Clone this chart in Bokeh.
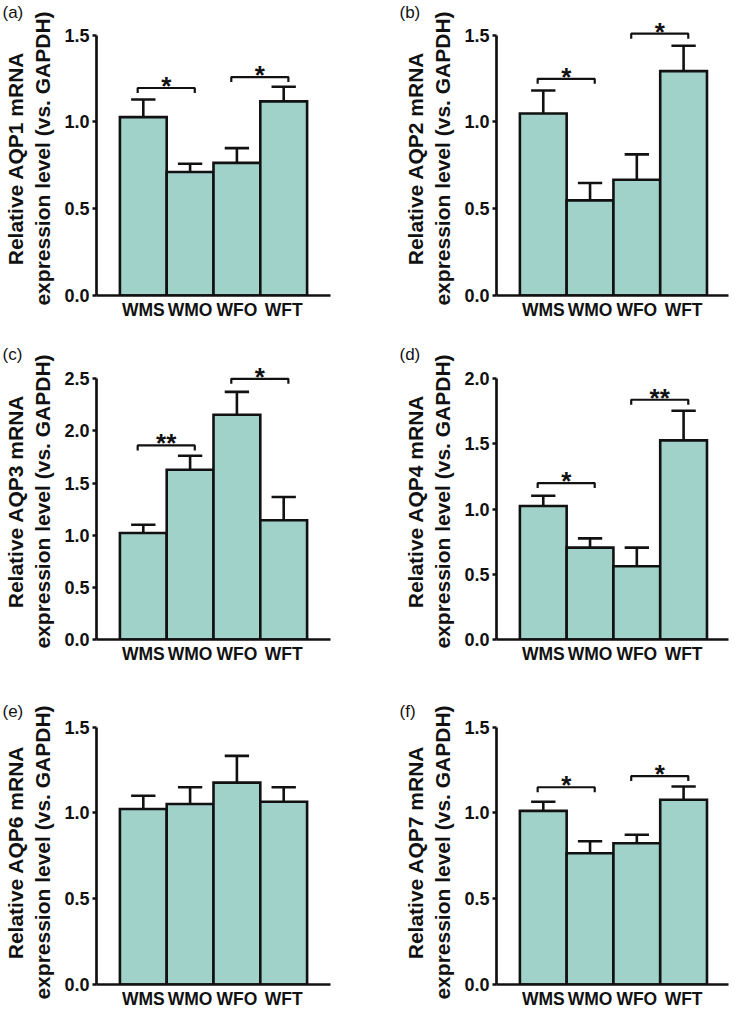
from bokeh.plotting import figure
from bokeh.layouts import gridplot
from bokeh.models import Range1d, FixedTicker, NumeralTickFormatter, ColumnDataSource, Title
from bokeh.core.properties import value
from bokeh.embed import file_html
from bokeh.resources import INLINE

# ---------------- data ----------------
categories = ["WMS", "WMO", "WFO", "WFT"]
panel_tags = ["(a)", "(b)", "(c)", "(d)", "(e)", "(f)"]
genes = ["AQP1", "AQP2", "AQP3", "AQP4", "AQP6", "AQP7"]

aqp1_mean = [1.027, 0.711, 0.764, 1.118]
aqp1_sem = [0.102, 0.048, 0.085, 0.084]
aqp2_mean = [1.048, 0.548, 0.667, 1.292]
aqp2_sem = [0.133, 0.100, 0.146, 0.146]
aqp3_mean = [1.022, 1.628, 2.155, 1.143]
aqp3_sem = [0.078, 0.134, 0.220, 0.224]
aqp4_mean = [1.024, 0.705, 0.562, 1.527]
aqp4_sem = [0.079, 0.071, 0.143, 0.228]
aqp6_mean = [1.023, 1.052, 1.177, 1.065]
aqp6_sem = [0.077, 0.098, 0.156, 0.085]
aqp7_mean = [1.012, 0.765, 0.823, 1.077]
aqp7_sem = [0.053, 0.070, 0.050, 0.077]

ticks_15 = [0.0, 0.5, 1.0, 1.5]
ticks_20 = [0.0, 0.5, 1.0, 1.5, 2.0]
ticks_25 = [0.0, 0.5, 1.0, 1.5, 2.0, 2.5]

# significance brackets: (group i, group j, bracket height, marker)
aqp1_sig = [(0, 1, 1.195, "*"), (2, 3, 1.258, "*")]
aqp2_sig = [(0, 1, 1.248, "*"), (2, 3, 1.508, "*")]
aqp3_sig = [(0, 1, 1.861, "**"), (2, 3, 2.500, "*")]
aqp4_sig = [(0, 1, 1.200, "*"), (2, 3, 1.839, "**")]
aqp6_sig = []
aqp7_sig = [(0, 1, 1.150, "*"), (2, 3, 1.215, "*")]

# ---------------- style / layout ----------------
FILL = "#a0d2c9"
INK = "#111111"
FONT = "Liberation Sans"

LEFT = dict(x0=0, w=367, bl=96, br=37, xend=5.0, tx=2)
RIGHT = dict(x0=367, w=368, bl=129, br=7, xend=4.96, tx=399)
ROW1 = dict(h=330, bt=5, bb=35)
ROW2 = dict(h=340, bt=33, bb=31)
ROW3 = dict(h=341, bt=50, bb=24)


def make_panel(tag, gene, means, sems, ticks, sig, col, rw, yend):
    p = figure(width=col["w"], height=rw["h"],
               x_range=Range1d(0, col["xend"]), y_range=Range1d(0, yend),
               output_backend="svg", toolbar_location=None,
               min_border_left=col["bl"], min_border_right=col["br"],
               min_border_top=rw["bt"], min_border_bottom=rw["bb"])
    p.outline_line_color = None
    p.grid.visible = False

    frame_h = rw["h"] - max(rw["bt"], 22) - rw["bb"]

    xs = [i + 1 for i in range(len(categories))]
    src = ColumnDataSource(dict(
        x=xs, top=means,
        hi=[m + s for m, s in zip(means, sems)],
        cl=[x - 0.26 for x in xs], cr=[x + 0.26 for x in xs]))
    p.vbar(x="x", top="top", bottom=0, width=1.0, source=src,
           fill_color=FILL, line_color=INK, line_width=2.6, line_join="miter")
    p.segment(x0="x", y0="top", x1="x", y1="hi", source=src,
              line_color=INK, line_width=2.6)
    p.segment(x0="cl", y0="hi", x1="cr", y1="hi", source=src,
              line_color=INK, line_width=2.6)

    d = 5.0 * yend / frame_h
    if sig:
        bx, by, sx, sy, st = [], [], [], [], []
        for i, j, yb, mk in sig:
            l = xs[i] - 0.12
            r = xs[j] + 0.10
            bx.append([l, l, r, r])
            by.append([yb - d, yb, yb, yb - d])
            sx.append((l + r) / 2)
            sy.append(yb)
            st.append(mk)
        p.multi_line(xs=bx, ys=by, line_color=INK, line_width=2.2)
        p.text(x=sx, y=sy, text=st, text_font=value(FONT), text_font_style="bold",
               text_font_size="26px", text_align="center", text_baseline="alphabetic",
               y_offset=-2, text_color=INK)

    yax = p.yaxis[0]
    yax.ticker = FixedTicker(ticks=ticks)
    yax.bounds = (ticks[0], ticks[-1])
    yax.formatter = NumeralTickFormatter(format="0.0")
    yax.axis_label = f"Relative {gene} mRNA\nexpression level (vs. GAPDH)"
    yax.axis_label_text_font = FONT
    yax.axis_label_text_font_style = "bold"
    yax.axis_label_text_font_size = "21px"
    yax.axis_label_text_color = INK
    yax.axis_label_standoff = 7
    yax.major_label_text_font = FONT
    yax.major_label_text_font_style = "bold"
    yax.major_label_text_font_size = "18px"
    yax.major_label_text_color = INK
    yax.major_label_standoff = 3
    yax.axis_line_width = 2.7
    yax.axis_line_color = INK
    yax.major_tick_line_width = 2.5
    yax.major_tick_line_color = INK
    yax.major_tick_out = 4
    yax.major_tick_in = 0
    yax.minor_tick_out = 0
    yax.minor_tick_in = 0

    xax = p.xaxis[0]
    xax.ticker = FixedTicker(ticks=xs)
    xax.major_label_overrides = {x: c for x, c in zip(xs, categories)}
    xax.major_label_text_font = FONT
    xax.major_label_text_font_style = "bold"
    xax.major_label_text_font_size = "17.5px"
    xax.major_label_text_color = INK
    xax.major_label_standoff = 4
    xax.axis_line_width = 2.7
    xax.axis_line_color = INK
    xax.major_tick_out = 0
    xax.major_tick_in = 0
    xax.minor_tick_out = 0
    xax.minor_tick_in = 0

    t = Title(text=tag, align="left", offset=col["tx"] - col["x0"] - col["bl"],
              text_font=FONT, text_font_size="17px", text_font_style="normal",
              text_color=INK, standoff=0)
    p.add_layout(t, "above")
    return p


pa = make_panel(panel_tags[0], genes[0], aqp1_mean, aqp1_sem, ticks_15, aqp1_sig, LEFT, ROW1, 1.578)
pb = make_panel(panel_tags[1], genes[1], aqp2_mean, aqp2_sem, ticks_15, aqp2_sig, RIGHT, ROW1, 1.578)
pc = make_panel(panel_tags[2], genes[2], aqp3_mean, aqp3_sem, ticks_25, aqp3_sig, LEFT, ROW2, 2.647)
pd = make_panel(panel_tags[3], genes[3], aqp4_mean, aqp4_sem, ticks_20, aqp4_sig, RIGHT, ROW2, 2.117)
pe = make_panel(panel_tags[4], genes[4], aqp6_mean, aqp6_sem, ticks_15, aqp6_sig, LEFT, ROW3, 1.539)
pf = make_panel(panel_tags[5], genes[5], aqp7_mean, aqp7_sem, ticks_15, aqp7_sig, RIGHT, ROW3, 1.539)

grid = gridplot([[pa, pb], [pc, pd], [pe, pf]], toolbar_location=None)

open("out.html", "w").write(file_html(grid, INLINE))
